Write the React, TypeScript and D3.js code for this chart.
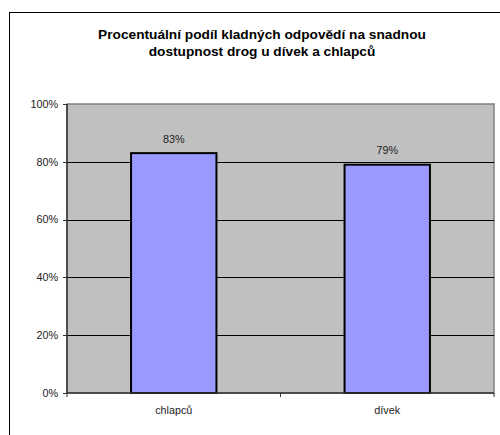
import React from "react";
import * as d3 from "d3";

const categories = ["chlapců", "dívek"];
const values = [83, 79];
const yTicks = [0, 20, 40, 60, 80, 100];
const titleLines = [
  "Procentuální podíl kladných odpovědí na snadnou",
  "dostupnost drog u dívek a chlapců",
];

export default function App() {
  const W = 500, H = 435;
  const left = 67, right = 494, top = 104, bottom = 393;
  const x = d3.scaleBand<string>().domain(categories).range([left, right]).paddingInner(0.6).paddingOuter(0.3);
  const xb = d3.scaleBand<string>().domain(categories).range([left, right]);
  const y = d3.scaleLinear().domain([0, 100]).range([bottom, top]);
  const font = "Arial, 'Liberation Sans', sans-serif";
  return (
    <svg width={W} height={H} style={{ position: "absolute", left: 0, top: 0 }} fontFamily={font}>
      <rect x={0} y={0} width={W} height={H} fill="#fff" />
      <rect x={9.5} y={12.5} width={W + 10} height={H + 10} fill="none" stroke="#000" strokeWidth={1} />
      {titleLines.map((t, i) => (
        <text key={i} x={262} y={39 + i * 16.6} textAnchor="middle" fontSize={13.7} fontWeight="bold" fill="#000">{t}</text>
      ))}
      <rect x={left} y={top} width={right - left} height={bottom - top} fill="#C0C0C0" stroke="#808080" strokeWidth={1.5} />
      {yTicks.filter(t => t > 0 && t < 100).map(t => (
        <line key={t} x1={left} x2={right} y1={Math.round(y(t)) + 0.5} y2={Math.round(y(t)) + 0.5} stroke="#000" strokeWidth={1} />
      ))}
      {categories.map((c, i) => (
        <g key={c}>
          <rect x={x(c)!} y={y(values[i])} width={x.bandwidth()} height={bottom - y(values[i])} fill="#9999FF" stroke="#000" strokeWidth={2} />
          <text x={x(c)! + x.bandwidth() / 2} y={y(values[i]) - 10.5} textAnchor="middle" fontSize={10.8} fill="#222">{values[i]}%</text>
          <text x={xb(c)! + xb.bandwidth() / 2} y={414} textAnchor="middle" fontSize={10.8} fill="#222">{c}</text>
        </g>
      ))}
      <line x1={left} x2={left} y1={top} y2={bottom} stroke="#333" strokeWidth={1.5} />
      <line x1={left} x2={right} y1={bottom} y2={bottom} stroke="#333" strokeWidth={1.5} />
      {yTicks.map(t => (
        <g key={t}>
          <line x1={left - 4} x2={left} y1={Math.round(y(t)) + 0.5} y2={Math.round(y(t)) + 0.5} stroke="#333" />
          <text x={58} y={y(t) + 3.8} textAnchor="end" fontSize={10.8} fill="#222">{t}%</text>
        </g>
      ))}
      {[...categories.map(c => xb(c)!), right].map((v, i) => (
        <line key={i} x1={v} x2={v} y1={bottom} y2={bottom + 4} stroke="#333" />
      ))}
    </svg>
  );
}
